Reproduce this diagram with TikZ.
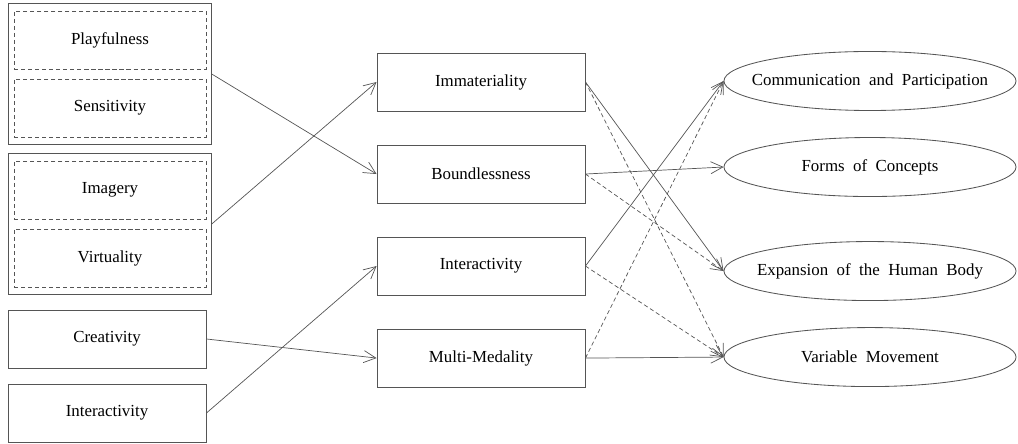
\documentclass[tikz,border=0pt]{standalone}
\usepackage{fontspec}
\setmainfont{Liberation Serif}
\usepackage{xcolor}
\definecolor{mgray}{RGB}{85,85,85}
\usetikzlibrary{positioning}
\usetikzlibrary{fit}
\usetikzlibrary{shapes.geometric}
\usetikzlibrary{arrows.meta}

\begin{document}
\begin{tikzpicture}[x=0.025cm, y=-0.025cm, node distance=1.7cm,
    every node/.style={font=\fontsize{12}{14}\selectfont},
    trait/.style={draw=mgray, dash pattern=on 3pt off 2pt, minimum width=4.8cm, minimum height=1.45cm, inner sep=0pt},
    group/.style={draw=mgray, line width=0.6pt, inner xsep=0.125cm, inner ysep=0.175cm},
    single/.style={draw=mgray, line width=0.6pt, minimum width=4.95cm, minimum height=1.45cm, inner sep=0pt},
    feature/.style={draw=mgray, line width=0.6pt, minimum width=5.2cm, minimum height=1.45cm, inner sep=0pt},
    effect/.style={draw=mgray, line width=0.6pt, ellipse, minimum width=7.3cm, minimum height=1.475cm, inner sep=0pt,
        execute at begin node={\spaceskip=0.5em\relax}},
    arrow/.style={-{Straight Barb[length=0.3cm, width=0.3cm]}, draw=mgray, line width=0.5pt},
    dasharrow/.style={arrow, dash pattern=on 3pt off 2pt},
]
\useasboundingbox (0,0) rectangle (1018,444);

% left column
\node[trait] (play) at (110,40) {Playfulness};
\node[trait, below of=play] (sens) {Sensitivity};
\node[group, fit=(play)(sens)] (senses) {};
\node[trait] (imag) at (110,190) {Imagery};
\node[trait, below of=imag] (virt) {Virtuality};
\node[group, fit=(imag)(virt)] (fancy) {};
\node[single] (creat) at (107,339) {Creativity};
\node[single, below of=creat, yshift=-0.15cm] (inter) {Interactivity};

% middle column
\node[feature] (immat) at (481,82) {Immateriality};
\node[feature, below of=immat, yshift=-0.6cm] (bound) {Boundlessness};
\node[feature, below of=bound, yshift=-0.6cm] (interm) {Interactivity};
\node[feature, below of=interm, yshift=-0.6cm] (multi) {Multi-Medality};

% right column
\node[effect] (comm) at (870,81) {\makebox[0pt]{Communication and Participation}};
\node[effect, below of=comm, yshift=-0.45cm] (forms) {\makebox[0pt]{Forms of Concepts}};
\node[effect, below of=forms, yshift=-0.9cm] (exp) {\makebox[0pt]{Expansion of the Human Body}};
\node[effect, below of=exp, yshift=-0.45cm] (var) {\makebox[0pt]{Variable Movement}};

\draw[arrow] (senses.east) -- (bound.west);
\draw[arrow] (fancy.east) -- (immat.west);
\draw[arrow] (creat.east) -- (multi.west);
\draw[arrow] (inter.east) -- (interm.west);

\draw[arrow] (immat.east) -- (exp.west);
\draw[dasharrow] (immat.east) -- (var.west);
\draw[arrow] (bound.east) -- (forms.west);
\draw[dasharrow] (bound.east) -- (exp.west);
\draw[arrow] (interm.east) -- (comm.west);
\draw[dasharrow] (interm.east) -- (var.west);
\draw[dasharrow] (multi.east) -- (comm.west);
\draw[arrow] (multi.east) -- (var.west);

\end{tikzpicture}
\end{document}
